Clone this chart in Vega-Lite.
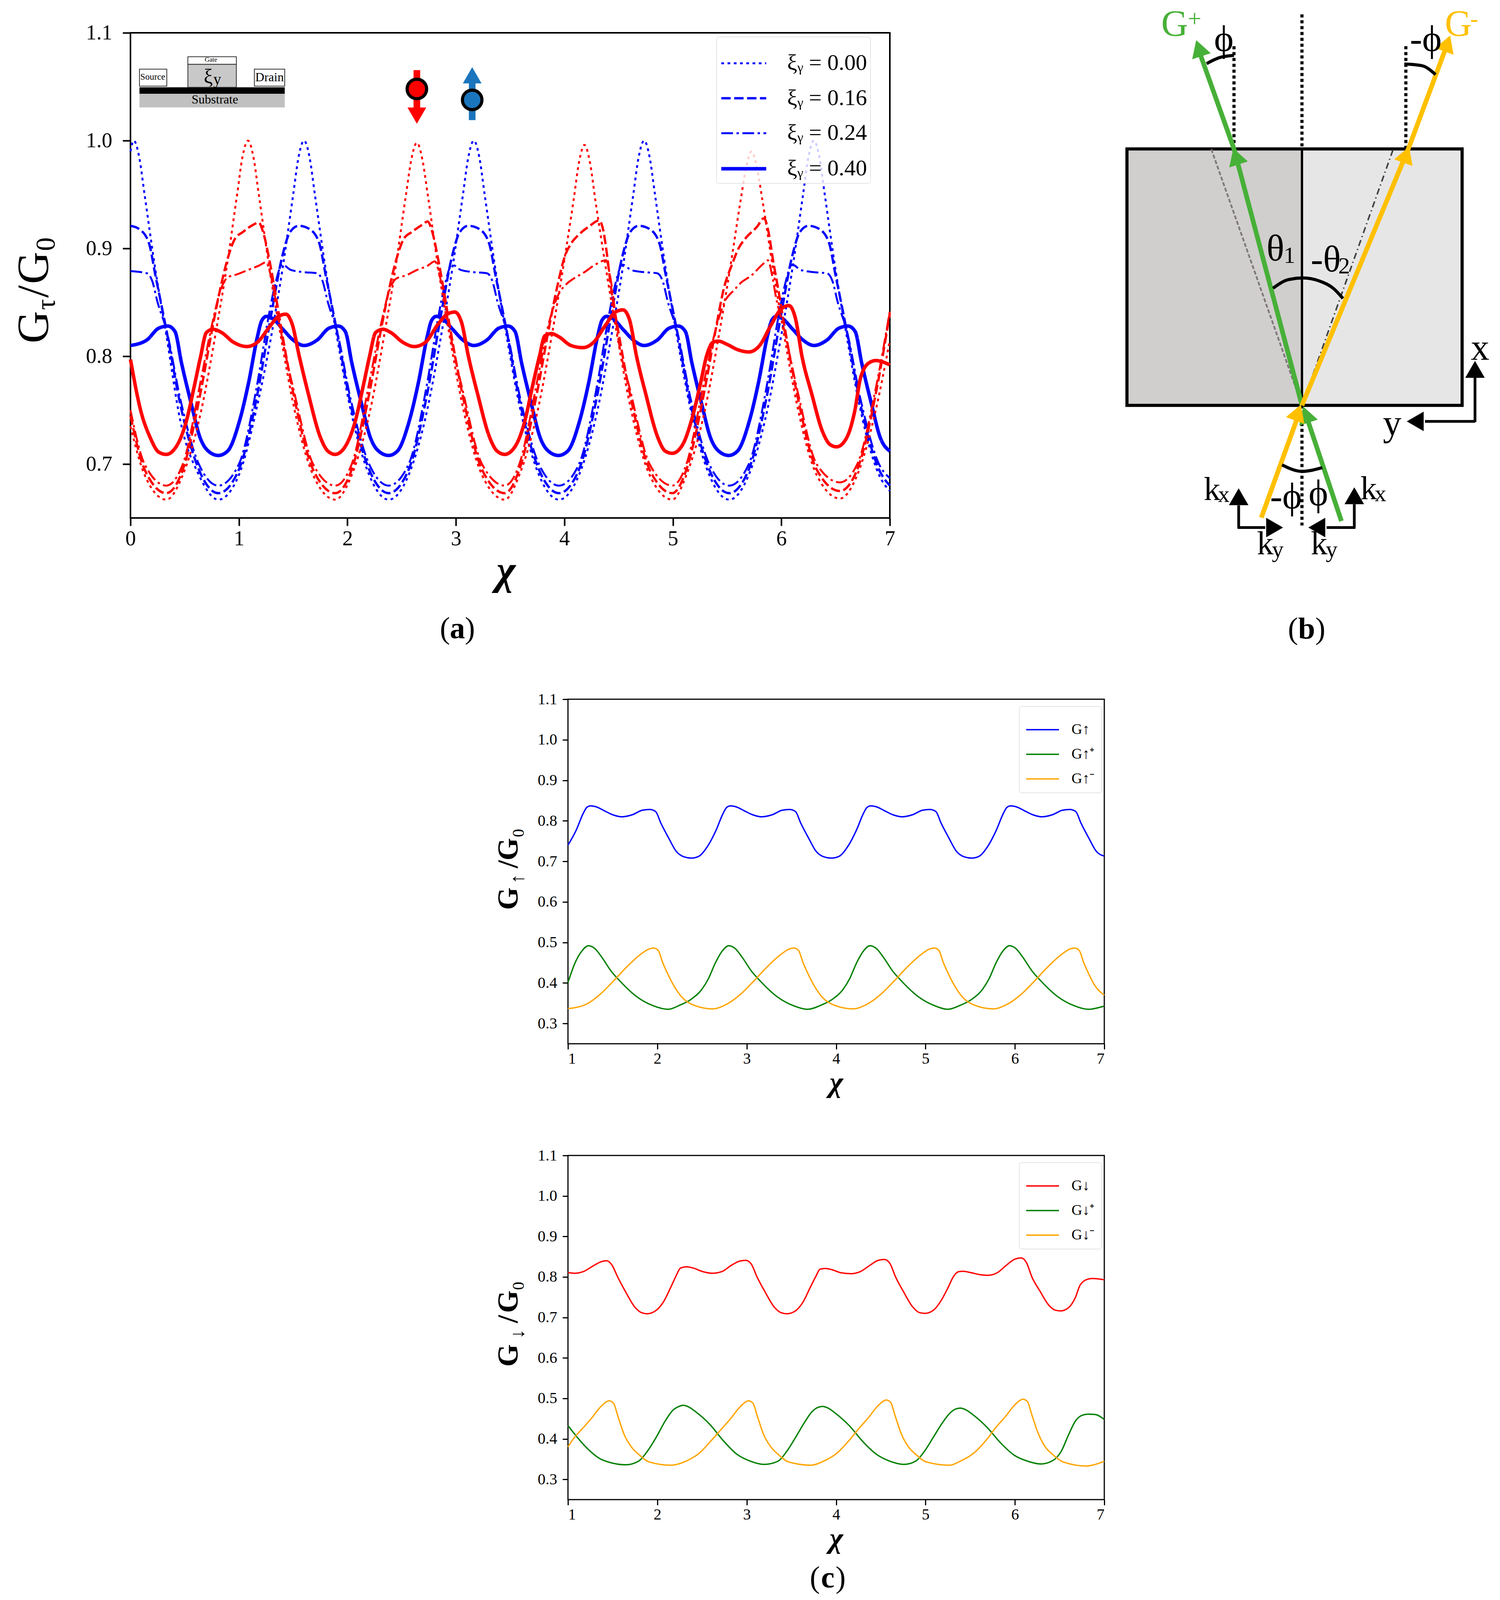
{
"$schema":"https://vega.github.io/schema/vega-lite/v6.json",
"padding":{"left":28,"top":15,"right":0,"bottom":0},
"background":"white",
"config":{"font":"Liberation Serif","text":{"font":"Liberation Serif"},"axis":{"grid":false,"domain":false,"labelFont":"Liberation Serif","titleFont":"Liberation Serif","labelColor":"black","titleColor":"black","tickColor":"black"},"legend":{"labelFont":"Liberation Serif","labelColor":"black"}},
"datasets":{
"up":[
{"x":0,"y":0.99,"k":"0.00"},{"x":0.03,"y":1,"k":"0.00"},{"x":0.08,"y":0.985,"k":"0.00"},{"x":0.13,"y":0.95,"k":"0.00"},{"x":0.23,"y":0.88,"k":"0.00"},{"x":0.33,"y":0.82,"k":"0.00"},{"x":0.46,"y":0.74,"k":"0.00"},{"x":0.63,"y":0.69,"k":"0.00"},{"x":0.81,"y":0.667,"k":"0.00"},
{"x":1,"y":0.69,"k":"0.00"},{"x":1.17,"y":0.755,"k":"0.00"},{"x":1.3,"y":0.82,"k":"0.00"},{"x":1.4,"y":0.88,"k":"0.00"},{"x":1.5,"y":0.95,"k":"0.00"},{"x":1.55,"y":0.985,"k":"0.00"},{"x":1.6,"y":1,"k":"0.00"},{"x":1.65,"y":0.985,"k":"0.00"},{"x":1.7,"y":0.95,"k":"0.00"},{"x":1.8,"y":0.88,"k":"0.00"},{"x":1.9,"y":0.82,"k":"0.00"},{"x":2.03,"y":0.75,"k":"0.00"},{"x":2.2,"y":0.69,"k":"0.00"},{"x":2.38,"y":0.667,"k":"0.00"},
{"x":2.565,"y":0.69,"k":"0.00"},{"x":2.735,"y":0.75,"k":"0.00"},{"x":2.865,"y":0.82,"k":"0.00"},{"x":2.965,"y":0.88,"k":"0.00"},{"x":3.065,"y":0.95,"k":"0.00"},{"x":3.115,"y":0.985,"k":"0.00"},{"x":3.165,"y":1,"k":"0.00"},{"x":3.215,"y":0.985,"k":"0.00"},{"x":3.265,"y":0.95,"k":"0.00"},{"x":3.365,"y":0.88,"k":"0.00"},{"x":3.465,"y":0.82,"k":"0.00"},{"x":3.595,"y":0.75,"k":"0.00"},{"x":3.765,"y":0.69,"k":"0.00"},{"x":3.95,"y":0.667,"k":"0.00"},
{"x":4.135,"y":0.69,"k":"0.00"},{"x":4.305,"y":0.75,"k":"0.00"},{"x":4.435,"y":0.82,"k":"0.00"},{"x":4.535,"y":0.88,"k":"0.00"},{"x":4.635,"y":0.95,"k":"0.00"},{"x":4.685,"y":0.985,"k":"0.00"},{"x":4.735,"y":1,"k":"0.00"},{"x":4.785,"y":0.985,"k":"0.00"},{"x":4.835,"y":0.95,"k":"0.00"},{"x":4.935,"y":0.88,"k":"0.00"},{"x":5.035,"y":0.82,"k":"0.00"},{"x":5.165,"y":0.75,"k":"0.00"},{"x":5.335,"y":0.69,"k":"0.00"},{"x":5.52,"y":0.667,"k":"0.00"},
{"x":5.7,"y":0.69,"k":"0.00"},{"x":5.87,"y":0.75,"k":"0.00"},{"x":6,"y":0.82,"k":"0.00"},{"x":6.1,"y":0.88,"k":"0.00"},{"x":6.2,"y":0.95,"k":"0.00"},{"x":6.25,"y":0.985,"k":"0.00"},{"x":6.3,"y":1,"k":"0.00"},{"x":6.35,"y":0.985,"k":"0.00"},{"x":6.4,"y":0.95,"k":"0.00"},{"x":6.5,"y":0.88,"k":"0.00"},{"x":6.6,"y":0.82,"k":"0.00"},{"x":6.73,"y":0.75,"k":"0.00"},{"x":6.9,"y":0.69,"k":"0.00"},{"x":7,"y":0.675,"k":"0.00"},
{"x":0,"y":0.921,"k":"0.16"},{"x":0.08,"y":0.918,"k":"0.16"},{"x":0.17,"y":0.905,"k":"0.16"},{"x":0.23,"y":0.875,"k":"0.16"},{"x":0.33,"y":0.825,"k":"0.16"},{"x":0.46,"y":0.755,"k":"0.16"},{"x":0.63,"y":0.695,"k":"0.16"},{"x":0.81,"y":0.673,"k":"0.16"},
{"x":1,"y":0.695,"k":"0.16"},{"x":1.17,"y":0.765,"k":"0.16"},{"x":1.3,"y":0.84,"k":"0.16"},{"x":1.4,"y":0.893,"k":"0.16"},{"x":1.47,"y":0.915,"k":"0.16"},{"x":1.55,"y":0.921,"k":"0.16"},{"x":1.65,"y":0.918,"k":"0.16"},{"x":1.74,"y":0.905,"k":"0.16"},{"x":1.8,"y":0.875,"k":"0.16"},{"x":1.9,"y":0.825,"k":"0.16"},{"x":2.03,"y":0.755,"k":"0.16"},{"x":2.2,"y":0.695,"k":"0.16"},{"x":2.38,"y":0.673,"k":"0.16"},
{"x":2.565,"y":0.695,"k":"0.16"},{"x":2.735,"y":0.765,"k":"0.16"},{"x":2.865,"y":0.84,"k":"0.16"},{"x":2.965,"y":0.893,"k":"0.16"},{"x":3.035,"y":0.915,"k":"0.16"},{"x":3.115,"y":0.921,"k":"0.16"},{"x":3.215,"y":0.918,"k":"0.16"},{"x":3.305,"y":0.905,"k":"0.16"},{"x":3.365,"y":0.875,"k":"0.16"},{"x":3.465,"y":0.825,"k":"0.16"},{"x":3.595,"y":0.755,"k":"0.16"},{"x":3.765,"y":0.695,"k":"0.16"},{"x":3.95,"y":0.673,"k":"0.16"},
{"x":4.135,"y":0.695,"k":"0.16"},{"x":4.305,"y":0.765,"k":"0.16"},{"x":4.435,"y":0.84,"k":"0.16"},{"x":4.535,"y":0.893,"k":"0.16"},{"x":4.605,"y":0.915,"k":"0.16"},{"x":4.685,"y":0.921,"k":"0.16"},{"x":4.785,"y":0.918,"k":"0.16"},{"x":4.875,"y":0.905,"k":"0.16"},{"x":4.935,"y":0.875,"k":"0.16"},{"x":5.035,"y":0.825,"k":"0.16"},{"x":5.165,"y":0.755,"k":"0.16"},{"x":5.335,"y":0.695,"k":"0.16"},{"x":5.52,"y":0.673,"k":"0.16"},
{"x":5.7,"y":0.695,"k":"0.16"},{"x":5.87,"y":0.765,"k":"0.16"},{"x":6,"y":0.84,"k":"0.16"},{"x":6.1,"y":0.893,"k":"0.16"},{"x":6.17,"y":0.915,"k":"0.16"},{"x":6.25,"y":0.921,"k":"0.16"},{"x":6.35,"y":0.918,"k":"0.16"},{"x":6.44,"y":0.905,"k":"0.16"},{"x":6.5,"y":0.875,"k":"0.16"},{"x":6.6,"y":0.825,"k":"0.16"},{"x":6.73,"y":0.755,"k":"0.16"},{"x":6.9,"y":0.695,"k":"0.16"},{"x":7,"y":0.68,"k":"0.16"},
{"x":0,"y":0.879,"k":"0.24"},{"x":0.15,"y":0.877,"k":"0.24"},{"x":0.2,"y":0.87,"k":"0.24"},{"x":0.25,"y":0.85,"k":"0.24"},{"x":0.33,"y":0.825,"k":"0.24"},{"x":0.46,"y":0.76,"k":"0.24"},{"x":0.63,"y":0.7,"k":"0.24"},{"x":0.81,"y":0.68,"k":"0.24"},
{"x":1,"y":0.7,"k":"0.24"},{"x":1.17,"y":0.775,"k":"0.24"},{"x":1.27,"y":0.835,"k":"0.24"},{"x":1.33,"y":0.865,"k":"0.24"},{"x":1.4,"y":0.885,"k":"0.24"},{"x":1.48,"y":0.88,"k":"0.24"},{"x":1.6,"y":0.878,"k":"0.24"},{"x":1.72,"y":0.877,"k":"0.24"},{"x":1.77,"y":0.87,"k":"0.24"},{"x":1.82,"y":0.85,"k":"0.24"},{"x":1.9,"y":0.825,"k":"0.24"},{"x":2.03,"y":0.76,"k":"0.24"},{"x":2.2,"y":0.7,"k":"0.24"},{"x":2.38,"y":0.68,"k":"0.24"},
{"x":2.565,"y":0.7,"k":"0.24"},{"x":2.735,"y":0.775,"k":"0.24"},{"x":2.835,"y":0.835,"k":"0.24"},{"x":2.895,"y":0.865,"k":"0.24"},{"x":2.965,"y":0.885,"k":"0.24"},{"x":3.045,"y":0.88,"k":"0.24"},{"x":3.165,"y":0.878,"k":"0.24"},{"x":3.285,"y":0.877,"k":"0.24"},{"x":3.335,"y":0.87,"k":"0.24"},{"x":3.385,"y":0.85,"k":"0.24"},{"x":3.465,"y":0.825,"k":"0.24"},{"x":3.595,"y":0.76,"k":"0.24"},{"x":3.765,"y":0.7,"k":"0.24"},{"x":3.95,"y":0.68,"k":"0.24"},
{"x":4.135,"y":0.7,"k":"0.24"},{"x":4.305,"y":0.775,"k":"0.24"},{"x":4.405,"y":0.835,"k":"0.24"},{"x":4.465,"y":0.865,"k":"0.24"},{"x":4.535,"y":0.885,"k":"0.24"},{"x":4.615,"y":0.88,"k":"0.24"},{"x":4.735,"y":0.878,"k":"0.24"},{"x":4.855,"y":0.877,"k":"0.24"},{"x":4.905,"y":0.87,"k":"0.24"},{"x":4.955,"y":0.85,"k":"0.24"},{"x":5.035,"y":0.825,"k":"0.24"},{"x":5.165,"y":0.76,"k":"0.24"},{"x":5.335,"y":0.7,"k":"0.24"},{"x":5.52,"y":0.68,"k":"0.24"},
{"x":5.7,"y":0.7,"k":"0.24"},{"x":5.87,"y":0.775,"k":"0.24"},{"x":5.97,"y":0.835,"k":"0.24"},{"x":6.03,"y":0.865,"k":"0.24"},{"x":6.1,"y":0.885,"k":"0.24"},{"x":6.18,"y":0.88,"k":"0.24"},{"x":6.3,"y":0.878,"k":"0.24"},{"x":6.42,"y":0.877,"k":"0.24"},{"x":6.47,"y":0.87,"k":"0.24"},{"x":6.52,"y":0.85,"k":"0.24"},{"x":6.6,"y":0.825,"k":"0.24"},{"x":6.73,"y":0.76,"k":"0.24"},{"x":6.9,"y":0.7,"k":"0.24"},{"x":7,"y":0.687,"k":"0.24"},
{"x":0,"y":0.81,"k":"0.40"},{"x":0.15,"y":0.815,"k":"0.40"},{"x":0.26,"y":0.826,"k":"0.40"},{"x":0.345,"y":0.828,"k":"0.40"},{"x":0.41,"y":0.823,"k":"0.40"},{"x":0.47,"y":0.794,"k":"0.40"},{"x":0.56,"y":0.756,"k":"0.40"},{"x":0.64,"y":0.725,"k":"0.40"},{"x":0.73,"y":0.711,"k":"0.40"},{"x":0.81,"y":0.708,"k":"0.40"},
{"x":0.895,"y":0.712,"k":"0.40"},{"x":1.005,"y":0.74,"k":"0.40"},{"x":1.09,"y":0.776,"k":"0.40"},{"x":1.17,"y":0.818,"k":"0.40"},{"x":1.21,"y":0.833,"k":"0.40"},{"x":1.253,"y":0.837,"k":"0.40"},{"x":1.31,"y":0.835,"k":"0.40"},{"x":1.405,"y":0.825,"k":"0.40"},{"x":1.5,"y":0.815,"k":"0.40"},{"x":1.6,"y":0.81,"k":"0.40"},{"x":1.72,"y":0.815,"k":"0.40"},{"x":1.83,"y":0.826,"k":"0.40"},{"x":1.915,"y":0.828,"k":"0.40"},{"x":1.98,"y":0.823,"k":"0.40"},{"x":2.04,"y":0.794,"k":"0.40"},{"x":2.13,"y":0.756,"k":"0.40"},{"x":2.21,"y":0.725,"k":"0.40"},{"x":2.3,"y":0.711,"k":"0.40"},{"x":2.38,"y":0.708,"k":"0.40"},
{"x":2.46,"y":0.712,"k":"0.40"},{"x":2.57,"y":0.74,"k":"0.40"},{"x":2.655,"y":0.776,"k":"0.40"},{"x":2.735,"y":0.818,"k":"0.40"},{"x":2.775,"y":0.833,"k":"0.40"},{"x":2.818,"y":0.837,"k":"0.40"},{"x":2.875,"y":0.835,"k":"0.40"},{"x":2.97,"y":0.825,"k":"0.40"},{"x":3.065,"y":0.815,"k":"0.40"},{"x":3.165,"y":0.81,"k":"0.40"},{"x":3.285,"y":0.815,"k":"0.40"},{"x":3.395,"y":0.826,"k":"0.40"},{"x":3.48,"y":0.828,"k":"0.40"},{"x":3.545,"y":0.823,"k":"0.40"},{"x":3.605,"y":0.794,"k":"0.40"},{"x":3.695,"y":0.756,"k":"0.40"},{"x":3.775,"y":0.725,"k":"0.40"},{"x":3.865,"y":0.711,"k":"0.40"},{"x":3.945,"y":0.708,"k":"0.40"},
{"x":4.03,"y":0.712,"k":"0.40"},{"x":4.14,"y":0.74,"k":"0.40"},{"x":4.225,"y":0.776,"k":"0.40"},{"x":4.305,"y":0.818,"k":"0.40"},{"x":4.345,"y":0.833,"k":"0.40"},{"x":4.388,"y":0.837,"k":"0.40"},{"x":4.445,"y":0.835,"k":"0.40"},{"x":4.54,"y":0.825,"k":"0.40"},{"x":4.635,"y":0.815,"k":"0.40"},{"x":4.735,"y":0.81,"k":"0.40"},{"x":4.855,"y":0.815,"k":"0.40"},{"x":4.965,"y":0.826,"k":"0.40"},{"x":5.05,"y":0.828,"k":"0.40"},{"x":5.115,"y":0.823,"k":"0.40"},{"x":5.175,"y":0.794,"k":"0.40"},{"x":5.265,"y":0.756,"k":"0.40"},{"x":5.345,"y":0.725,"k":"0.40"},{"x":5.435,"y":0.711,"k":"0.40"},{"x":5.515,"y":0.708,"k":"0.40"},
{"x":5.595,"y":0.712,"k":"0.40"},{"x":5.705,"y":0.74,"k":"0.40"},{"x":5.79,"y":0.776,"k":"0.40"},{"x":5.87,"y":0.818,"k":"0.40"},{"x":5.91,"y":0.833,"k":"0.40"},{"x":5.953,"y":0.837,"k":"0.40"},{"x":6.01,"y":0.835,"k":"0.40"},{"x":6.105,"y":0.825,"k":"0.40"},{"x":6.2,"y":0.815,"k":"0.40"},{"x":6.3,"y":0.81,"k":"0.40"},{"x":6.42,"y":0.815,"k":"0.40"},{"x":6.53,"y":0.826,"k":"0.40"},{"x":6.615,"y":0.828,"k":"0.40"},{"x":6.68,"y":0.823,"k":"0.40"},{"x":6.74,"y":0.794,"k":"0.40"},{"x":6.83,"y":0.756,"k":"0.40"},{"x":6.91,"y":0.725,"k":"0.40"},{"x":7,"y":0.712,"k":"0.40"}
],
"down":[
{"x":0,"y":0.735,"k":"0.00"},{"x":0.13,"y":0.69,"k":"0.00"},{"x":0.33,"y":0.667,"k":"0.00"},{"x":0.483,"y":0.69,"k":"0.00"},{"x":0.653,"y":0.75,"k":"0.00"},{"x":0.783,"y":0.82,"k":"0.00"},{"x":0.883,"y":0.88,"k":"0.00"},{"x":0.983,"y":0.95,"k":"0.00"},{"x":1.033,"y":0.985,"k":"0.00"},{"x":1.083,"y":1,"k":"0.00"},{"x":1.133,"y":0.985,"k":"0.00"},{"x":1.183,"y":0.95,"k":"0.00"},{"x":1.283,"y":0.88,"k":"0.00"},{"x":1.383,"y":0.82,"k":"0.00"},{"x":1.513,"y":0.75,"k":"0.00"},{"x":1.683,"y":0.69,"k":"0.00"},{"x":1.887,"y":0.667,"k":"0.00"},
{"x":2.04,"y":0.69,"k":"0.00"},{"x":2.21,"y":0.75,"k":"0.00"},{"x":2.34,"y":0.82,"k":"0.00"},{"x":2.44,"y":0.88,"k":"0.00"},{"x":2.54,"y":0.95,"k":"0.00"},{"x":2.59,"y":0.983,"k":"0.00"},{"x":2.64,"y":0.998,"k":"0.00"},{"x":2.69,"y":0.983,"k":"0.00"},{"x":2.74,"y":0.95,"k":"0.00"},{"x":2.84,"y":0.88,"k":"0.00"},{"x":2.94,"y":0.82,"k":"0.00"},{"x":3.07,"y":0.75,"k":"0.00"},{"x":3.24,"y":0.69,"k":"0.00"},{"x":3.45,"y":0.667,"k":"0.00"},
{"x":3.585,"y":0.69,"k":"0.00"},{"x":3.755,"y":0.75,"k":"0.00"},{"x":3.885,"y":0.82,"k":"0.00"},{"x":3.985,"y":0.88,"k":"0.00"},{"x":4.085,"y":0.945,"k":"0.00"},{"x":4.135,"y":0.98,"k":"0.00"},{"x":4.185,"y":0.996,"k":"0.00"},{"x":4.235,"y":0.98,"k":"0.00"},{"x":4.285,"y":0.945,"k":"0.00"},{"x":4.385,"y":0.88,"k":"0.00"},{"x":4.485,"y":0.82,"k":"0.00"},{"x":4.615,"y":0.75,"k":"0.00"},{"x":4.785,"y":0.69,"k":"0.00"},{"x":4.995,"y":0.667,"k":"0.00"},
{"x":5.125,"y":0.69,"k":"0.00"},{"x":5.295,"y":0.75,"k":"0.00"},{"x":5.425,"y":0.82,"k":"0.00"},{"x":5.525,"y":0.88,"k":"0.00"},{"x":5.625,"y":0.945,"k":"0.00"},{"x":5.675,"y":0.975,"k":"0.00"},{"x":5.725,"y":0.99,"k":"0.00"},{"x":5.775,"y":0.975,"k":"0.00"},{"x":5.825,"y":0.945,"k":"0.00"},{"x":5.925,"y":0.88,"k":"0.00"},{"x":6.025,"y":0.82,"k":"0.00"},{"x":6.155,"y":0.75,"k":"0.00"},{"x":6.325,"y":0.69,"k":"0.00"},{"x":6.54,"y":0.668,"k":"0.00"},{"x":6.7,"y":0.69,"k":"0.00"},{"x":6.87,"y":0.75,"k":"0.00"},{"x":7,"y":0.815,"k":"0.00"},
{"x":0,"y":0.745,"k":"0.16"},{"x":0.13,"y":0.695,"k":"0.16"},{"x":0.33,"y":0.673,"k":"0.16"},{"x":0.483,"y":0.695,"k":"0.16"},{"x":0.653,"y":0.77,"k":"0.16"},{"x":0.753,"y":0.825,"k":"0.16"},{"x":0.833,"y":0.865,"k":"0.16"},{"x":0.903,"y":0.893,"k":"0.16"},{"x":0.963,"y":0.909,"k":"0.16"},{"x":1.033,"y":0.915,"k":"0.16"},{"x":1.133,"y":0.922,"k":"0.16"},{"x":1.183,"y":0.924,"k":"0.16"},{"x":1.223,"y":0.915,"k":"0.16"},{"x":1.283,"y":0.888,"k":"0.16"},{"x":1.333,"y":0.86,"k":"0.16"},{"x":1.383,"y":0.83,"k":"0.16"},{"x":1.513,"y":0.76,"k":"0.16"},{"x":1.683,"y":0.695,"k":"0.16"},{"x":1.887,"y":0.673,"k":"0.16"},
{"x":2.04,"y":0.695,"k":"0.16"},{"x":2.21,"y":0.77,"k":"0.16"},{"x":2.31,"y":0.825,"k":"0.16"},{"x":2.39,"y":0.865,"k":"0.16"},{"x":2.46,"y":0.893,"k":"0.16"},{"x":2.52,"y":0.909,"k":"0.16"},{"x":2.59,"y":0.915,"k":"0.16"},{"x":2.69,"y":0.922,"k":"0.16"},{"x":2.74,"y":0.925,"k":"0.16"},{"x":2.78,"y":0.916,"k":"0.16"},{"x":2.84,"y":0.888,"k":"0.16"},{"x":2.89,"y":0.86,"k":"0.16"},{"x":2.94,"y":0.83,"k":"0.16"},{"x":3.07,"y":0.76,"k":"0.16"},{"x":3.24,"y":0.695,"k":"0.16"},{"x":3.45,"y":0.673,"k":"0.16"},
{"x":3.585,"y":0.695,"k":"0.16"},{"x":3.755,"y":0.77,"k":"0.16"},{"x":3.855,"y":0.825,"k":"0.16"},{"x":3.935,"y":0.865,"k":"0.16"},{"x":4.005,"y":0.893,"k":"0.16"},{"x":4.065,"y":0.905,"k":"0.16"},{"x":4.135,"y":0.913,"k":"0.16"},{"x":4.235,"y":0.921,"k":"0.16"},{"x":4.32,"y":0.926,"k":"0.16"},{"x":4.36,"y":0.916,"k":"0.16"},{"x":4.385,"y":0.9,"k":"0.16"},{"x":4.435,"y":0.86,"k":"0.16"},{"x":4.485,"y":0.83,"k":"0.16"},{"x":4.615,"y":0.76,"k":"0.16"},{"x":4.785,"y":0.695,"k":"0.16"},{"x":4.995,"y":0.673,"k":"0.16"},
{"x":5.125,"y":0.695,"k":"0.16"},{"x":5.295,"y":0.77,"k":"0.16"},{"x":5.395,"y":0.825,"k":"0.16"},{"x":5.475,"y":0.865,"k":"0.16"},{"x":5.545,"y":0.885,"k":"0.16"},{"x":5.605,"y":0.9,"k":"0.16"},{"x":5.675,"y":0.91,"k":"0.16"},{"x":5.775,"y":0.92,"k":"0.16"},{"x":5.84,"y":0.928,"k":"0.16"},{"x":5.88,"y":0.916,"k":"0.16"},{"x":5.925,"y":0.888,"k":"0.16"},{"x":5.975,"y":0.86,"k":"0.16"},{"x":6.025,"y":0.83,"k":"0.16"},{"x":6.155,"y":0.76,"k":"0.16"},{"x":6.325,"y":0.695,"k":"0.16"},{"x":6.54,"y":0.675,"k":"0.16"},{"x":6.7,"y":0.695,"k":"0.16"},{"x":6.87,"y":0.765,"k":"0.16"},{"x":7,"y":0.84,"k":"0.16"},
{"x":0,"y":0.75,"k":"0.24"},{"x":0.13,"y":0.7,"k":"0.24"},{"x":0.33,"y":0.68,"k":"0.24"},{"x":0.483,"y":0.7,"k":"0.24"},{"x":0.653,"y":0.78,"k":"0.24"},{"x":0.753,"y":0.83,"k":"0.24"},{"x":0.833,"y":0.862,"k":"0.24"},{"x":0.893,"y":0.873,"k":"0.24"},{"x":0.983,"y":0.876,"k":"0.24"},{"x":1.083,"y":0.88,"k":"0.24"},{"x":1.183,"y":0.884,"k":"0.24"},{"x":1.248,"y":0.887,"k":"0.24"},{"x":1.293,"y":0.875,"k":"0.24"},{"x":1.333,"y":0.855,"k":"0.24"},{"x":1.383,"y":0.825,"k":"0.24"},{"x":1.513,"y":0.765,"k":"0.24"},{"x":1.683,"y":0.7,"k":"0.24"},{"x":1.887,"y":0.68,"k":"0.24"},
{"x":2.04,"y":0.7,"k":"0.24"},{"x":2.21,"y":0.78,"k":"0.24"},{"x":2.31,"y":0.83,"k":"0.24"},{"x":2.39,"y":0.862,"k":"0.24"},{"x":2.45,"y":0.872,"k":"0.24"},{"x":2.54,"y":0.875,"k":"0.24"},{"x":2.64,"y":0.88,"k":"0.24"},{"x":2.74,"y":0.884,"k":"0.24"},{"x":2.805,"y":0.888,"k":"0.24"},{"x":2.85,"y":0.875,"k":"0.24"},{"x":2.89,"y":0.855,"k":"0.24"},{"x":2.94,"y":0.825,"k":"0.24"},{"x":3.07,"y":0.765,"k":"0.24"},{"x":3.24,"y":0.7,"k":"0.24"},{"x":3.45,"y":0.68,"k":"0.24"},
{"x":3.585,"y":0.7,"k":"0.24"},{"x":3.755,"y":0.78,"k":"0.24"},{"x":3.855,"y":0.83,"k":"0.24"},{"x":3.935,"y":0.855,"k":"0.24"},{"x":4.03,"y":0.868,"k":"0.24"},{"x":4.085,"y":0.872,"k":"0.24"},{"x":4.185,"y":0.878,"k":"0.24"},{"x":4.285,"y":0.885,"k":"0.24"},{"x":4.385,"y":0.889,"k":"0.24"},{"x":4.42,"y":0.875,"k":"0.24"},{"x":4.45,"y":0.855,"k":"0.24"},{"x":4.485,"y":0.825,"k":"0.24"},{"x":4.615,"y":0.765,"k":"0.24"},{"x":4.785,"y":0.7,"k":"0.24"},{"x":4.995,"y":0.68,"k":"0.24"},
{"x":5.125,"y":0.7,"k":"0.24"},{"x":5.295,"y":0.78,"k":"0.24"},{"x":5.395,"y":0.825,"k":"0.24"},{"x":5.475,"y":0.85,"k":"0.24"},{"x":5.57,"y":0.862,"k":"0.24"},{"x":5.625,"y":0.868,"k":"0.24"},{"x":5.725,"y":0.875,"k":"0.24"},{"x":5.825,"y":0.885,"k":"0.24"},{"x":5.876,"y":0.889,"k":"0.24"},{"x":5.915,"y":0.875,"k":"0.24"},{"x":5.95,"y":0.855,"k":"0.24"},{"x":6.025,"y":0.825,"k":"0.24"},{"x":6.155,"y":0.765,"k":"0.24"},{"x":6.325,"y":0.7,"k":"0.24"},{"x":6.54,"y":0.683,"k":"0.24"},{"x":6.7,"y":0.7,"k":"0.24"},{"x":6.87,"y":0.77,"k":"0.24"},{"x":7,"y":0.842,"k":"0.24"},
{"x":0,"y":0.797,"k":"0.40"},{"x":0.096,"y":0.749,"k":"0.40"},{"x":0.18,"y":0.725,"k":"0.40"},{"x":0.262,"y":0.711,"k":"0.40"},{"x":0.33,"y":0.709,"k":"0.40"},{"x":0.427,"y":0.717,"k":"0.40"},{"x":0.51,"y":0.738,"k":"0.40"},{"x":0.592,"y":0.774,"k":"0.40"},{"x":0.647,"y":0.8,"k":"0.40"},{"x":0.7,"y":0.822,"k":"0.40"},{"x":0.763,"y":0.825,"k":"0.40"},{"x":0.84,"y":0.822,"k":"0.40"},{"x":0.95,"y":0.813,"k":"0.40"},{"x":1.074,"y":0.809,"k":"0.40"},{"x":1.17,"y":0.813,"k":"0.40"},{"x":1.28,"y":0.827,"k":"0.40"},{"x":1.364,"y":0.837,"k":"0.40"},{"x":1.433,"y":0.839,"k":"0.40"},{"x":1.49,"y":0.83,"k":"0.40"},{"x":1.556,"y":0.8,"k":"0.40"},{"x":1.64,"y":0.765,"k":"0.40"},{"x":1.75,"y":0.725,"k":"0.40"},{"x":1.82,"y":0.712,"k":"0.40"},{"x":1.887,"y":0.709,"k":"0.40"},
{"x":1.984,"y":0.717,"k":"0.40"},{"x":2.067,"y":0.738,"k":"0.40"},{"x":2.149,"y":0.774,"k":"0.40"},{"x":2.204,"y":0.8,"k":"0.40"},{"x":2.26,"y":0.822,"k":"0.40"},{"x":2.328,"y":0.825,"k":"0.40"},{"x":2.4,"y":0.822,"k":"0.40"},{"x":2.51,"y":0.813,"k":"0.40"},{"x":2.617,"y":0.809,"k":"0.40"},{"x":2.72,"y":0.813,"k":"0.40"},{"x":2.83,"y":0.829,"k":"0.40"},{"x":2.92,"y":0.839,"k":"0.40"},{"x":2.99,"y":0.841,"k":"0.40"},{"x":3.05,"y":0.832,"k":"0.40"},{"x":3.115,"y":0.8,"k":"0.40"},{"x":3.2,"y":0.765,"k":"0.40"},{"x":3.31,"y":0.725,"k":"0.40"},{"x":3.38,"y":0.712,"k":"0.40"},{"x":3.45,"y":0.709,"k":"0.40"},
{"x":3.55,"y":0.717,"k":"0.40"},{"x":3.63,"y":0.738,"k":"0.40"},{"x":3.71,"y":0.774,"k":"0.40"},{"x":3.77,"y":0.8,"k":"0.40"},{"x":3.82,"y":0.819,"k":"0.40"},{"x":3.88,"y":0.821,"k":"0.40"},{"x":3.95,"y":0.818,"k":"0.40"},{"x":4.06,"y":0.81,"k":"0.40"},{"x":4.17,"y":0.808,"k":"0.40"},{"x":4.27,"y":0.813,"k":"0.40"},{"x":4.38,"y":0.829,"k":"0.40"},{"x":4.47,"y":0.841,"k":"0.40"},{"x":4.54,"y":0.843,"k":"0.40"},{"x":4.6,"y":0.834,"k":"0.40"},{"x":4.665,"y":0.8,"k":"0.40"},{"x":4.75,"y":0.765,"k":"0.40"},{"x":4.86,"y":0.725,"k":"0.40"},{"x":4.93,"y":0.712,"k":"0.40"},{"x":4.995,"y":0.71,"k":"0.40"},
{"x":5.09,"y":0.718,"k":"0.40"},{"x":5.17,"y":0.74,"k":"0.40"},{"x":5.255,"y":0.775,"k":"0.40"},{"x":5.31,"y":0.8,"k":"0.40"},{"x":5.37,"y":0.813,"k":"0.40"},{"x":5.42,"y":0.814,"k":"0.40"},{"x":5.5,"y":0.811,"k":"0.40"},{"x":5.6,"y":0.806,"k":"0.40"},{"x":5.7,"y":0.804,"k":"0.40"},{"x":5.8,"y":0.81,"k":"0.40"},{"x":5.9,"y":0.828,"k":"0.40"},{"x":6,"y":0.844,"k":"0.40"},{"x":6.07,"y":0.847,"k":"0.40"},{"x":6.13,"y":0.835,"k":"0.40"},{"x":6.19,"y":0.8,"k":"0.40"},{"x":6.28,"y":0.765,"k":"0.40"},{"x":6.38,"y":0.73,"k":"0.40"},{"x":6.45,"y":0.718,"k":"0.40"},{"x":6.51,"y":0.716,"k":"0.40"},{"x":6.6,"y":0.724,"k":"0.40"},{"x":6.676,"y":0.749,"k":"0.40"},{"x":6.73,"y":0.78,"k":"0.40"},{"x":6.81,"y":0.794,"k":"0.40"},{"x":6.87,"y":0.796,"k":"0.40"},{"x":7,"y":0.792,"k":"0.40"}
],
"cup":[
{"x":1,"y":0.74,"g":"G↑"},{"x":1.09,"y":0.776,"g":"G↑"},{"x":1.17,"y":0.818,"g":"G↑"},{"x":1.21,"y":0.833,"g":"G↑"},{"x":1.253,"y":0.837,"g":"G↑"},{"x":1.31,"y":0.835,"g":"G↑"},{"x":1.405,"y":0.825,"g":"G↑"},{"x":1.5,"y":0.815,"g":"G↑"},{"x":1.6,"y":0.81,"g":"G↑"},{"x":1.72,"y":0.815,"g":"G↑"},{"x":1.83,"y":0.826,"g":"G↑"},{"x":1.915,"y":0.828,"g":"G↑"},{"x":1.98,"y":0.823,"g":"G↑"},{"x":2.04,"y":0.794,"g":"G↑"},{"x":2.13,"y":0.756,"g":"G↑"},{"x":2.21,"y":0.725,"g":"G↑"},{"x":2.3,"y":0.711,"g":"G↑"},{"x":2.38,"y":0.708,"g":"G↑"},
{"x":2.46,"y":0.712,"g":"G↑"},{"x":2.57,"y":0.74,"g":"G↑"},{"x":2.655,"y":0.776,"g":"G↑"},{"x":2.735,"y":0.818,"g":"G↑"},{"x":2.775,"y":0.833,"g":"G↑"},{"x":2.818,"y":0.837,"g":"G↑"},{"x":2.875,"y":0.835,"g":"G↑"},{"x":2.97,"y":0.825,"g":"G↑"},{"x":3.065,"y":0.815,"g":"G↑"},{"x":3.165,"y":0.81,"g":"G↑"},{"x":3.285,"y":0.815,"g":"G↑"},{"x":3.395,"y":0.826,"g":"G↑"},{"x":3.48,"y":0.828,"g":"G↑"},{"x":3.545,"y":0.823,"g":"G↑"},{"x":3.605,"y":0.794,"g":"G↑"},{"x":3.695,"y":0.756,"g":"G↑"},{"x":3.775,"y":0.725,"g":"G↑"},{"x":3.865,"y":0.711,"g":"G↑"},{"x":3.945,"y":0.708,"g":"G↑"},
{"x":4.03,"y":0.712,"g":"G↑"},{"x":4.14,"y":0.74,"g":"G↑"},{"x":4.225,"y":0.776,"g":"G↑"},{"x":4.305,"y":0.818,"g":"G↑"},{"x":4.345,"y":0.833,"g":"G↑"},{"x":4.388,"y":0.837,"g":"G↑"},{"x":4.445,"y":0.835,"g":"G↑"},{"x":4.54,"y":0.825,"g":"G↑"},{"x":4.635,"y":0.815,"g":"G↑"},{"x":4.735,"y":0.81,"g":"G↑"},{"x":4.855,"y":0.815,"g":"G↑"},{"x":4.965,"y":0.826,"g":"G↑"},{"x":5.05,"y":0.828,"g":"G↑"},{"x":5.115,"y":0.823,"g":"G↑"},{"x":5.175,"y":0.794,"g":"G↑"},{"x":5.265,"y":0.756,"g":"G↑"},{"x":5.345,"y":0.725,"g":"G↑"},{"x":5.435,"y":0.711,"g":"G↑"},{"x":5.515,"y":0.708,"g":"G↑"},
{"x":5.595,"y":0.712,"g":"G↑"},{"x":5.705,"y":0.74,"g":"G↑"},{"x":5.79,"y":0.776,"g":"G↑"},{"x":5.87,"y":0.818,"g":"G↑"},{"x":5.91,"y":0.833,"g":"G↑"},{"x":5.953,"y":0.837,"g":"G↑"},{"x":6.01,"y":0.835,"g":"G↑"},{"x":6.105,"y":0.825,"g":"G↑"},{"x":6.2,"y":0.815,"g":"G↑"},{"x":6.3,"y":0.81,"g":"G↑"},{"x":6.42,"y":0.815,"g":"G↑"},{"x":6.53,"y":0.826,"g":"G↑"},{"x":6.615,"y":0.828,"g":"G↑"},{"x":6.68,"y":0.823,"g":"G↑"},{"x":6.74,"y":0.794,"g":"G↑"},{"x":6.83,"y":0.756,"g":"G↑"},{"x":6.91,"y":0.725,"g":"G↑"},{"x":7,"y":0.713,"g":"G↑"},
{"x":1,"y":0.401,"g":"G↑⁺"},{"x":1.08,"y":0.45,"g":"G↑⁺"},{"x":1.16,"y":0.48,"g":"G↑⁺"},{"x":1.23,"y":0.492,"g":"G↑⁺"},{"x":1.3,"y":0.485,"g":"G↑⁺"},{"x":1.38,"y":0.463,"g":"G↑⁺"},{"x":1.48,"y":0.43,"g":"G↑⁺"},{"x":1.58,"y":0.405,"g":"G↑⁺"},{"x":1.77,"y":0.366,"g":"G↑⁺"},{"x":1.95,"y":0.344,"g":"G↑⁺"},{"x":2.12,"y":0.335,"g":"G↑⁺"},
{"x":2.25,"y":0.345,"g":"G↑⁺"},{"x":2.38,"y":0.36,"g":"G↑⁺"},{"x":2.5,"y":0.385,"g":"G↑⁺"},{"x":2.57,"y":0.41,"g":"G↑⁺"},{"x":2.65,"y":0.45,"g":"G↑⁺"},{"x":2.73,"y":0.48,"g":"G↑⁺"},{"x":2.8,"y":0.492,"g":"G↑⁺"},{"x":2.87,"y":0.485,"g":"G↑⁺"},{"x":2.95,"y":0.463,"g":"G↑⁺"},{"x":3.05,"y":0.43,"g":"G↑⁺"},{"x":3.15,"y":0.405,"g":"G↑⁺"},{"x":3.34,"y":0.366,"g":"G↑⁺"},{"x":3.52,"y":0.344,"g":"G↑⁺"},{"x":3.68,"y":0.335,"g":"G↑⁺"},
{"x":3.83,"y":0.345,"g":"G↑⁺"},{"x":3.96,"y":0.36,"g":"G↑⁺"},{"x":4.08,"y":0.385,"g":"G↑⁺"},{"x":4.15,"y":0.41,"g":"G↑⁺"},{"x":4.23,"y":0.45,"g":"G↑⁺"},{"x":4.31,"y":0.48,"g":"G↑⁺"},{"x":4.38,"y":0.492,"g":"G↑⁺"},{"x":4.45,"y":0.485,"g":"G↑⁺"},{"x":4.53,"y":0.463,"g":"G↑⁺"},{"x":4.63,"y":0.43,"g":"G↑⁺"},{"x":4.73,"y":0.405,"g":"G↑⁺"},{"x":4.92,"y":0.366,"g":"G↑⁺"},{"x":5.1,"y":0.344,"g":"G↑⁺"},{"x":5.25,"y":0.335,"g":"G↑⁺"},
{"x":5.39,"y":0.345,"g":"G↑⁺"},{"x":5.52,"y":0.36,"g":"G↑⁺"},{"x":5.64,"y":0.385,"g":"G↑⁺"},{"x":5.71,"y":0.41,"g":"G↑⁺"},{"x":5.79,"y":0.45,"g":"G↑⁺"},{"x":5.87,"y":0.48,"g":"G↑⁺"},{"x":5.94,"y":0.492,"g":"G↑⁺"},{"x":6.01,"y":0.485,"g":"G↑⁺"},{"x":6.09,"y":0.463,"g":"G↑⁺"},{"x":6.19,"y":0.43,"g":"G↑⁺"},{"x":6.29,"y":0.405,"g":"G↑⁺"},{"x":6.48,"y":0.366,"g":"G↑⁺"},{"x":6.66,"y":0.344,"g":"G↑⁺"},{"x":6.82,"y":0.335,"g":"G↑⁺"},{"x":7,"y":0.343,"g":"G↑⁺"},
{"x":1,"y":0.337,"g":"G↑⁻"},{"x":1.05,"y":0.338,"g":"G↑⁻"},{"x":1.21,"y":0.348,"g":"G↑⁻"},{"x":1.36,"y":0.372,"g":"G↑⁻"},{"x":1.51,"y":0.405,"g":"G↑⁻"},{"x":1.66,"y":0.44,"g":"G↑⁻"},{"x":1.81,"y":0.47,"g":"G↑⁻"},{"x":1.91,"y":0.484,"g":"G↑⁻"},{"x":1.96,"y":0.486,"g":"G↑⁻"},{"x":2.01,"y":0.48,"g":"G↑⁻"},{"x":2.06,"y":0.45,"g":"G↑⁻"},{"x":2.1,"y":0.43,"g":"G↑⁻"},{"x":2.18,"y":0.395,"g":"G↑⁻"},{"x":2.27,"y":0.366,"g":"G↑⁻"},{"x":2.41,"y":0.345,"g":"G↑⁻"},{"x":2.62,"y":0.336,"g":"G↑⁻"},
{"x":2.78,"y":0.348,"g":"G↑⁻"},{"x":2.93,"y":0.372,"g":"G↑⁻"},{"x":3.08,"y":0.405,"g":"G↑⁻"},{"x":3.23,"y":0.44,"g":"G↑⁻"},{"x":3.38,"y":0.47,"g":"G↑⁻"},{"x":3.48,"y":0.484,"g":"G↑⁻"},{"x":3.53,"y":0.486,"g":"G↑⁻"},{"x":3.58,"y":0.48,"g":"G↑⁻"},{"x":3.63,"y":0.45,"g":"G↑⁻"},{"x":3.67,"y":0.43,"g":"G↑⁻"},{"x":3.75,"y":0.395,"g":"G↑⁻"},{"x":3.84,"y":0.366,"g":"G↑⁻"},{"x":3.98,"y":0.345,"g":"G↑⁻"},{"x":4.19,"y":0.336,"g":"G↑⁻"},
{"x":4.35,"y":0.348,"g":"G↑⁻"},{"x":4.5,"y":0.372,"g":"G↑⁻"},{"x":4.65,"y":0.405,"g":"G↑⁻"},{"x":4.8,"y":0.44,"g":"G↑⁻"},{"x":4.95,"y":0.47,"g":"G↑⁻"},{"x":5.05,"y":0.484,"g":"G↑⁻"},{"x":5.1,"y":0.486,"g":"G↑⁻"},{"x":5.15,"y":0.48,"g":"G↑⁻"},{"x":5.2,"y":0.45,"g":"G↑⁻"},{"x":5.24,"y":0.43,"g":"G↑⁻"},{"x":5.32,"y":0.395,"g":"G↑⁻"},{"x":5.41,"y":0.366,"g":"G↑⁻"},{"x":5.55,"y":0.345,"g":"G↑⁻"},{"x":5.76,"y":0.336,"g":"G↑⁻"},
{"x":5.92,"y":0.348,"g":"G↑⁻"},{"x":6.07,"y":0.372,"g":"G↑⁻"},{"x":6.22,"y":0.405,"g":"G↑⁻"},{"x":6.37,"y":0.44,"g":"G↑⁻"},{"x":6.52,"y":0.47,"g":"G↑⁻"},{"x":6.62,"y":0.484,"g":"G↑⁻"},{"x":6.67,"y":0.486,"g":"G↑⁻"},{"x":6.72,"y":0.48,"g":"G↑⁻"},{"x":6.77,"y":0.45,"g":"G↑⁻"},{"x":6.81,"y":0.43,"g":"G↑⁻"},{"x":6.89,"y":0.395,"g":"G↑⁻"},{"x":7,"y":0.37,"g":"G↑⁻"}
],
"cdown":[
{"x":1,"y":0.811,"g":"G↓"},{"x":1.074,"y":0.809,"g":"G↓"},{"x":1.17,"y":0.813,"g":"G↓"},{"x":1.28,"y":0.827,"g":"G↓"},{"x":1.364,"y":0.837,"g":"G↓"},{"x":1.433,"y":0.84,"g":"G↓"},{"x":1.49,"y":0.83,"g":"G↓"},{"x":1.556,"y":0.8,"g":"G↓"},{"x":1.64,"y":0.765,"g":"G↓"},{"x":1.75,"y":0.725,"g":"G↓"},{"x":1.82,"y":0.712,"g":"G↓"},{"x":1.887,"y":0.709,"g":"G↓"},
{"x":1.984,"y":0.717,"g":"G↓"},{"x":2.067,"y":0.738,"g":"G↓"},{"x":2.149,"y":0.774,"g":"G↓"},{"x":2.204,"y":0.8,"g":"G↓"},{"x":2.26,"y":0.822,"g":"G↓"},{"x":2.328,"y":0.825,"g":"G↓"},{"x":2.4,"y":0.822,"g":"G↓"},{"x":2.51,"y":0.813,"g":"G↓"},{"x":2.617,"y":0.809,"g":"G↓"},{"x":2.72,"y":0.813,"g":"G↓"},{"x":2.83,"y":0.829,"g":"G↓"},{"x":2.92,"y":0.839,"g":"G↓"},{"x":2.99,"y":0.841,"g":"G↓"},{"x":3.05,"y":0.832,"g":"G↓"},{"x":3.115,"y":0.8,"g":"G↓"},{"x":3.2,"y":0.765,"g":"G↓"},{"x":3.31,"y":0.725,"g":"G↓"},{"x":3.38,"y":0.712,"g":"G↓"},{"x":3.45,"y":0.709,"g":"G↓"},
{"x":3.55,"y":0.717,"g":"G↓"},{"x":3.63,"y":0.738,"g":"G↓"},{"x":3.71,"y":0.774,"g":"G↓"},{"x":3.77,"y":0.8,"g":"G↓"},{"x":3.82,"y":0.819,"g":"G↓"},{"x":3.88,"y":0.821,"g":"G↓"},{"x":3.95,"y":0.818,"g":"G↓"},{"x":4.06,"y":0.81,"g":"G↓"},{"x":4.17,"y":0.808,"g":"G↓"},{"x":4.27,"y":0.813,"g":"G↓"},{"x":4.38,"y":0.829,"g":"G↓"},{"x":4.47,"y":0.841,"g":"G↓"},{"x":4.54,"y":0.843,"g":"G↓"},{"x":4.6,"y":0.834,"g":"G↓"},{"x":4.665,"y":0.8,"g":"G↓"},{"x":4.75,"y":0.765,"g":"G↓"},{"x":4.86,"y":0.725,"g":"G↓"},{"x":4.93,"y":0.712,"g":"G↓"},{"x":4.995,"y":0.71,"g":"G↓"},
{"x":5.09,"y":0.718,"g":"G↓"},{"x":5.17,"y":0.74,"g":"G↓"},{"x":5.255,"y":0.775,"g":"G↓"},{"x":5.31,"y":0.8,"g":"G↓"},{"x":5.37,"y":0.813,"g":"G↓"},{"x":5.42,"y":0.814,"g":"G↓"},{"x":5.5,"y":0.811,"g":"G↓"},{"x":5.6,"y":0.806,"g":"G↓"},{"x":5.7,"y":0.804,"g":"G↓"},{"x":5.8,"y":0.81,"g":"G↓"},{"x":5.9,"y":0.828,"g":"G↓"},{"x":6,"y":0.844,"g":"G↓"},{"x":6.07,"y":0.847,"g":"G↓"},{"x":6.13,"y":0.835,"g":"G↓"},{"x":6.19,"y":0.8,"g":"G↓"},{"x":6.28,"y":0.765,"g":"G↓"},{"x":6.38,"y":0.73,"g":"G↓"},{"x":6.45,"y":0.718,"g":"G↓"},{"x":6.51,"y":0.716,"g":"G↓"},{"x":6.6,"y":0.724,"g":"G↓"},{"x":6.676,"y":0.749,"g":"G↓"},{"x":6.73,"y":0.78,"g":"G↓"},{"x":6.81,"y":0.794,"g":"G↓"},{"x":6.87,"y":0.796,"g":"G↓"},{"x":7,"y":0.793,"g":"G↓"},
{"x":1,"y":0.433,"g":"G↓⁺"},{"x":1.1,"y":0.405,"g":"G↓⁺"},{"x":1.2,"y":0.38,"g":"G↓⁺"},{"x":1.35,"y":0.352,"g":"G↓⁺"},{"x":1.5,"y":0.34,"g":"G↓⁺"},{"x":1.65,"y":0.336,"g":"G↓⁺"},
{"x":1.79,"y":0.345,"g":"G↓⁺"},{"x":1.89,"y":0.37,"g":"G↓⁺"},{"x":1.99,"y":0.405,"g":"G↓⁺"},{"x":2.09,"y":0.445,"g":"G↓⁺"},{"x":2.17,"y":0.47,"g":"G↓⁺"},{"x":2.24,"y":0.48,"g":"G↓⁺"},{"x":2.29,"y":0.483,"g":"G↓⁺"},{"x":2.34,"y":0.48,"g":"G↓⁺"},{"x":2.44,"y":0.465,"g":"G↓⁺"},{"x":2.59,"y":0.435,"g":"G↓⁺"},{"x":2.74,"y":0.395,"g":"G↓⁺"},{"x":2.89,"y":0.362,"g":"G↓⁺"},{"x":3.04,"y":0.345,"g":"G↓⁺"},{"x":3.2,"y":0.337,"g":"G↓⁺"},
{"x":3.35,"y":0.345,"g":"G↓⁺"},{"x":3.45,"y":0.37,"g":"G↓⁺"},{"x":3.55,"y":0.405,"g":"G↓⁺"},{"x":3.65,"y":0.442,"g":"G↓⁺"},{"x":3.73,"y":0.467,"g":"G↓⁺"},{"x":3.8,"y":0.478,"g":"G↓⁺"},{"x":3.85,"y":0.48,"g":"G↓⁺"},{"x":3.9,"y":0.477,"g":"G↓⁺"},{"x":4,"y":0.462,"g":"G↓⁺"},{"x":4.15,"y":0.432,"g":"G↓⁺"},{"x":4.3,"y":0.393,"g":"G↓⁺"},{"x":4.45,"y":0.362,"g":"G↓⁺"},{"x":4.6,"y":0.345,"g":"G↓⁺"},{"x":4.76,"y":0.337,"g":"G↓⁺"},
{"x":4.89,"y":0.345,"g":"G↓⁺"},{"x":4.99,"y":0.37,"g":"G↓⁺"},{"x":5.09,"y":0.405,"g":"G↓⁺"},{"x":5.19,"y":0.44,"g":"G↓⁺"},{"x":5.27,"y":0.463,"g":"G↓⁺"},{"x":5.34,"y":0.474,"g":"G↓⁺"},{"x":5.39,"y":0.476,"g":"G↓⁺"},{"x":5.44,"y":0.473,"g":"G↓⁺"},{"x":5.54,"y":0.458,"g":"G↓⁺"},{"x":5.69,"y":0.428,"g":"G↓⁺"},{"x":5.84,"y":0.39,"g":"G↓⁺"},{"x":5.99,"y":0.36,"g":"G↓⁺"},{"x":6.14,"y":0.345,"g":"G↓⁺"},{"x":6.29,"y":0.338,"g":"G↓⁺"},
{"x":6.42,"y":0.346,"g":"G↓⁺"},{"x":6.52,"y":0.37,"g":"G↓⁺"},{"x":6.6,"y":0.41,"g":"G↓⁺"},{"x":6.68,"y":0.445,"g":"G↓⁺"},{"x":6.75,"y":0.458,"g":"G↓⁺"},{"x":6.82,"y":0.461,"g":"G↓⁺"},{"x":6.9,"y":0.46,"g":"G↓⁺"},{"x":7,"y":0.448,"g":"G↓⁺"},
{"x":1,"y":0.38,"g":"G↓⁻"},{"x":1.06,"y":0.4,"g":"G↓⁻"},{"x":1.16,"y":0.425,"g":"G↓⁻"},{"x":1.26,"y":0.45,"g":"G↓⁻"},{"x":1.36,"y":0.478,"g":"G↓⁻"},{"x":1.42,"y":0.49,"g":"G↓⁻"},{"x":1.46,"y":0.494,"g":"G↓⁻"},{"x":1.51,"y":0.488,"g":"G↓⁻"},{"x":1.56,"y":0.455,"g":"G↓⁻"},{"x":1.63,"y":0.41,"g":"G↓⁻"},{"x":1.71,"y":0.38,"g":"G↓⁻"},{"x":1.79,"y":0.362,"g":"G↓⁻"},{"x":1.91,"y":0.343,"g":"G↓⁻"},{"x":2.15,"y":0.335,"g":"G↓⁻"},
{"x":2.32,"y":0.345,"g":"G↓⁻"},{"x":2.47,"y":0.365,"g":"G↓⁻"},{"x":2.62,"y":0.4,"g":"G↓⁻"},{"x":2.72,"y":0.425,"g":"G↓⁻"},{"x":2.82,"y":0.45,"g":"G↓⁻"},{"x":2.92,"y":0.478,"g":"G↓⁻"},{"x":2.98,"y":0.49,"g":"G↓⁻"},{"x":3.02,"y":0.494,"g":"G↓⁻"},{"x":3.07,"y":0.488,"g":"G↓⁻"},{"x":3.12,"y":0.455,"g":"G↓⁻"},{"x":3.19,"y":0.41,"g":"G↓⁻"},{"x":3.27,"y":0.38,"g":"G↓⁻"},{"x":3.35,"y":0.362,"g":"G↓⁻"},{"x":3.47,"y":0.343,"g":"G↓⁻"},{"x":3.72,"y":0.335,"g":"G↓⁻"},
{"x":3.86,"y":0.345,"g":"G↓⁻"},{"x":4.01,"y":0.365,"g":"G↓⁻"},{"x":4.16,"y":0.4,"g":"G↓⁻"},{"x":4.26,"y":0.427,"g":"G↓⁻"},{"x":4.36,"y":0.452,"g":"G↓⁻"},{"x":4.46,"y":0.48,"g":"G↓⁻"},{"x":4.52,"y":0.492,"g":"G↓⁻"},{"x":4.56,"y":0.496,"g":"G↓⁻"},{"x":4.61,"y":0.49,"g":"G↓⁻"},{"x":4.66,"y":0.457,"g":"G↓⁻"},{"x":4.73,"y":0.412,"g":"G↓⁻"},{"x":4.81,"y":0.38,"g":"G↓⁻"},{"x":4.89,"y":0.362,"g":"G↓⁻"},{"x":5.01,"y":0.343,"g":"G↓⁻"},{"x":5.27,"y":0.335,"g":"G↓⁻"},
{"x":5.39,"y":0.345,"g":"G↓⁻"},{"x":5.54,"y":0.365,"g":"G↓⁻"},{"x":5.69,"y":0.4,"g":"G↓⁻"},{"x":5.79,"y":0.429,"g":"G↓⁻"},{"x":5.89,"y":0.454,"g":"G↓⁻"},{"x":5.99,"y":0.482,"g":"G↓⁻"},{"x":6.05,"y":0.494,"g":"G↓⁻"},{"x":6.09,"y":0.498,"g":"G↓⁻"},{"x":6.14,"y":0.492,"g":"G↓⁻"},{"x":6.19,"y":0.459,"g":"G↓⁻"},{"x":6.26,"y":0.414,"g":"G↓⁻"},{"x":6.34,"y":0.38,"g":"G↓⁻"},{"x":6.42,"y":0.362,"g":"G↓⁻"},{"x":6.54,"y":0.343,"g":"G↓⁻"},{"x":6.8,"y":0.333,"g":"G↓⁻"},{"x":6.9,"y":0.337,"g":"G↓⁻"},{"x":7,"y":0.345,"g":"G↓⁻"}
]
},
"spacing":115,
"resolve":{"scale":{"color":"independent"},"legend":{"color":"independent"}},
"vconcat":[
{"bounds":"flush","spacing":263,"hconcat":[
{"width":1944,"height":1242,"view":{"stroke":"black","strokeWidth":4},
"encoding":{
"x":{"field":"x","type":"quantitative","scale":{"domain":[0,7],"nice":false,"zero":false},"axis":{"values":[0,1,2,3,4,5,6,7],"title":"χ","titleFontSize":105,"titleFontStyle":"italic","titlePadding":5,"titleX":961,"labelFontSize":54,"labelPadding":6,"tickSize":20,"tickWidth":4,"labelFlush":false}},
"y":{"field":"y","type":"quantitative","scale":{"domain":[0.65,1.1],"nice":false,"zero":false},"axis":{"values":[0.7,0.8,0.9,1.0,1.1],"format":".1f","title":null,"labelFontSize":54,"labelPadding":27,"tickSize":20,"tickWidth":4}}
},
"layer":[
{"data":{"name":"up"},"mark":{"type":"line","stroke":"#0000ff","interpolate":"monotone"},"encoding":{
"strokeDash":{"field":"k","type":"ordinal","scale":{"domain":["0.00","0.16","0.24","0.40"],"range":[[7,9],[24,9],[30,9,6,9],[1,0]]},"legend":{"title":null,"orient":"none","legendX":1500,"legendY":10,"zindex":1,"symbolType":"stroke","symbolSize":13225,"labelFontSize":58,"labelOffset":49,"labelLimit":600,"labelExpr":"'ξᵧ = ' + datum.label","fillColor":"rgba(255,255,255,0.8)","strokeColor":"#cccccc","cornerRadius":6,"padding":8,"rowPadding":-26,"encode":{"symbols":{"update":{"stroke":{"value":"#0000ff"}}}}}},
"strokeWidth":{"field":"k","type":"ordinal","scale":{"type":"ordinal","domain":["0.00","0.16","0.24","0.40"],"range":[5,6,5,9]},"legend":{"title":null,"orient":"none","legendX":1500,"legendY":10,"zindex":1,"symbolType":"stroke","symbolSize":13225,"labelFontSize":58,"labelOffset":49,"labelLimit":600,"labelExpr":"'ξᵧ = ' + datum.label","fillColor":"rgba(255,255,255,0.8)","strokeColor":"#cccccc","cornerRadius":6,"padding":8,"rowPadding":-26,"encode":{"symbols":{"update":{"stroke":{"value":"#0000ff"}}}}}}}},
{"data":{"name":"down"},"mark":{"type":"line","stroke":"#ff0000","interpolate":"monotone"},"encoding":{"strokeDash":{"field":"k","type":"ordinal","scale":{"domain":["0.00","0.16","0.24","0.40"],"range":[[7,9],[24,9],[30,9,6,9],[1,0]]}},"strokeWidth":{"field":"k","type":"ordinal","scale":{"type":"ordinal","domain":["0.00","0.16","0.24","0.40"],"range":[5,6,5,9]}}}},
{"data":{"values":[{"x":0.083,"x2":1.422,"y":1.0308,"y2":1.0435}]},"mark":{"type":"rect","fill":"#c0c0c0"},"encoding":{"x2":{"field":"x2"},"y2":{"field":"y2"}}},
{"data":{"values":[{"x":0.083,"x2":1.422,"y":1.0435,"y2":1.0495}]},"mark":{"type":"rect","fill":"#000000"},"encoding":{"x2":{"field":"x2"},"y2":{"field":"y2"}}},
{"data":{"values":[{"x":0.529,"x2":0.976,"y":1.0495,"y2":1.0708}]},"mark":{"type":"rect","fill":"#c8c8c8","stroke":"#333333","strokeWidth":2},"encoding":{"x2":{"field":"x2"},"y2":{"field":"y2"}}},
{"data":{"values":[{"x":0.529,"x2":0.976,"y":1.0708,"y2":1.0778},{"x":0.083,"x2":0.335,"y":1.0505,"y2":1.0663},{"x":1.142,"x2":1.422,"y":1.0505,"y2":1.0663}]},"mark":{"type":"rect","fill":"#ffffff","stroke":"#333333","strokeWidth":2},"encoding":{"x2":{"field":"x2"},"y2":{"field":"y2"}}},
{"data":{"values":[{"x":0.205,"y":1.059,"t":"Source"}]},"mark":{"type":"text","fontSize":23,"align":"center","baseline":"middle"},"encoding":{"text":{"field":"t"}}},
{"data":{"values":[{"x":1.282,"y":1.0587,"t":"Drain"}]},"mark":{"type":"text","fontSize":32,"align":"center","baseline":"middle"},"encoding":{"text":{"field":"t"}}},
{"data":{"values":[{"x":0.742,"y":1.075,"t":"Gate"}]},"mark":{"type":"text","fontSize":17,"align":"center","baseline":"middle"},"encoding":{"text":{"field":"t"}}},
{"data":{"values":[{"x":0.778,"y":1.0381,"t":"Substrate"}]},"mark":{"type":"text","fontSize":32,"align":"center","baseline":"middle"},"encoding":{"text":{"field":"t"}}},
{"data":{"values":[{"x":0.717,"y":1.059,"t":"ξ"}]},"mark":{"type":"text","fontSize":52,"align":"center","baseline":"middle"},"encoding":{"text":{"field":"t"}}},
{"data":{"values":[{"x":0.8,"y":1.0565,"t":"y"}]},"mark":{"type":"text","fontSize":40,"align":"center","baseline":"middle"},"encoding":{"text":{"field":"t"}}},
{"data":{"values":[{"x":2.64,"y":1.0654,"y2":1.0298}]},"mark":{"type":"rule","stroke":"#ff0000","strokeWidth":17},"encoding":{"y2":{"field":"y2"}}},
{"data":{"values":[{"x":2.64,"y":1.0232}]},"mark":{"type":"point","shape":"triangle-down","filled":true,"fill":"#ff0000","opacity":1,"size":2304}},
{"data":{"values":[{"x":2.64,"y":1.0479}]},"mark":{"type":"point","shape":"circle","filled":true,"fill":"#ff0000","stroke":"#000000","strokeWidth":8,"opacity":1,"size":2500}},
{"data":{"values":[{"x":3.15,"y":1.054,"y2":1.019}]},"mark":{"type":"rule","stroke":"#1b75bc","strokeWidth":17},"encoding":{"y2":{"field":"y2"}}},
{"data":{"values":[{"x":3.15,"y":1.0606}]},"mark":{"type":"point","shape":"triangle-up","filled":true,"fill":"#1b75bc","opacity":1,"size":2304}},
{"data":{"values":[{"x":3.15,"y":1.0378}]},"mark":{"type":"point","shape":"circle","filled":true,"fill":"#1b75bc","stroke":"#000000","strokeWidth":8,"opacity":1,"size":2500}},
{"data":{"values":[{"x":-0.76,"y":0.827,"t":"G"},{"x":-0.76,"y":0.86,"t":"/"},{"x":-0.76,"y":0.882,"t":"G"}]},"mark":{"type":"text","fontSize":115,"angle":270,"align":"center","baseline":"alphabetic"},"encoding":{"text":{"field":"t"}}},
{"data":{"values":[{"x":-0.7,"y":0.848,"t":"τ"},{"x":-0.7,"y":0.904,"t":"0"}]},"mark":{"type":"text","fontSize":70,"angle":270,"align":"center","baseline":"alphabetic"},"encoding":{"text":{"field":"t"}}},
{"data":{"values":[{"x":2.899,"y":0.5467,"t":"("},{"x":3.129,"y":0.5467,"t":")"}]},"mark":{"type":"text","fontSize":78,"align":"center","baseline":"middle"},"encoding":{"text":{"field":"t"}}},
{"data":{"values":[{"x":3.014,"y":0.5467,"t":"a"}]},"mark":{"type":"text","fontSize":78,"fontWeight":"bold","align":"center","baseline":"middle"},"encoding":{"text":{"field":"t"}}}
]},
{"width":1300,"height":1242,"view":{"stroke":null},
"encoding":{
"x":{"field":"x","type":"quantitative","scale":{"domain":[-792,508],"nice":false,"zero":false},"axis":null},
"y":{"field":"y","type":"quantitative","scale":{"domain":[-329,1088],"nice":false,"zero":false},"axis":null}
},
"layer":[
{"data":{"values":[{"x":-448,"x2":0,"y":0,"y2":749}]},"mark":{"type":"rect","fill":"#d0cfcd"},"encoding":{"x2":{"field":"x2"},"y2":{"field":"y2"}}},
{"data":{"values":[{"x":0,"x2":410,"y":0,"y2":749}]},"mark":{"type":"rect","fill":"#e6e6e6"},"encoding":{"x2":{"field":"x2"},"y2":{"field":"y2"}}},
{"data":{"values":[{"x":-448,"x2":410,"y":0,"y2":749}]},"mark":{"type":"rect","fill":null,"stroke":"#000000","strokeWidth":8},"encoding":{"x2":{"field":"x2"},"y2":{"field":"y2"}}},
{"data":{"values":[{"x":0,"y":0,"y2":749}]},"mark":{"type":"rule","stroke":"#000000","strokeWidth":6},"encoding":{"y2":{"field":"y2"}}},
{"data":{"values":[{"x":0,"y":1142,"y2":749},{"x":0,"y":0,"y2":-351},{"x":-174,"y":1049,"y2":749},{"x":266,"y":1049,"y2":749}]},"mark":{"type":"rule","stroke":"#000000","strokeWidth":8,"strokeDash":[8,7]},"encoding":{"y2":{"field":"y2"}}},
{"data":{"values":[{"x":-232,"y":748,"x2":0,"y2":0}]},"mark":{"type":"rule","stroke":"#7f7878","strokeWidth":4.5,"strokeDash":[10,5]},"encoding":{"x2":{"field":"x2"},"y2":{"field":"y2"}}},
{"data":{"values":[{"x":233,"y":746,"x2":0,"y2":0}]},"mark":{"type":"rule","stroke":"#404040","strokeWidth":4,"strokeDash":[16,8,3,8]},"encoding":{"x2":{"field":"x2"},"y2":{"field":"y2"}}},
{"data":{"values":[{"x":101,"y":-338,"x2":10,"y2":-27},{"x":0,"y":0,"x2":-174,"y2":749},{"x":-174,"y":749,"x2":-265,"y2":1040}]},"mark":{"type":"rule","stroke":"#47b038","strokeWidth":12},"encoding":{"x2":{"field":"x2"},"y2":{"field":"y2"}}},
{"data":{"values":[{"x":-104,"y":-328,"x2":-8,"y2":-25},{"x":0,"y":0,"x2":274,"y2":754},{"x":274,"y":754,"x2":372,"y2":1055}]},"mark":{"type":"rule","stroke":"#ffc000","strokeWidth":12},"encoding":{"x2":{"field":"x2"},"y2":{"field":"y2"}}},
{"data":{"values":[{"x":10,"y":-27},{"x":-169,"y":727},{"x":-264,"y":1043}]},"mark":{"type":"point","shape":"triangle-up","filled":true,"fill":"#47b038","opacity":1,"size":2500,"angle":-18}},
{"data":{"values":[{"x":-10,"y":-21},{"x":267,"y":732},{"x":372,"y":1057}]},"mark":{"type":"point","shape":"triangle-up","filled":true,"fill":"#ffc000","opacity":1,"size":2500,"angle":20}},
{"data":{"values":[{"a":"1","x":-244,"y":998},{"a":"1","x":-210,"y":1016},{"a":"1","x":-174,"y":1022},{"a":"2","x":262,"y":997},{"a":"2","x":307,"y":992},{"a":"2","x":342,"y":966},{"a":"3","x":-74,"y":342},{"a":"3","x":-35,"y":367},{"a":"3","x":2,"y":372},{"a":"3","x":45,"y":363},{"a":"3","x":81,"y":341},{"a":"3","x":105,"y":312},{"a":"4","x":-51,"y":-174},{"a":"4","x":0,"y":-193},{"a":"4","x":52,"y":-182}]},"mark":{"type":"line","stroke":"#000000","strokeWidth":8,"interpolate":"monotone"},"encoding":{"detail":{"field":"a"}}},
{"data":{"values":[{"x":443,"y":-49,"y2":81},{"x":-162,"y":-357,"y2":-292},{"x":134,"y":-357,"y2":-289}]},"mark":{"type":"rule","stroke":"#000000","strokeWidth":7},"encoding":{"y2":{"field":"y2"}}},
{"data":{"values":[{"x":443,"y":-47,"x2":315},{"x":-165,"y":-357,"x2":-94},{"x":137,"y":-357,"x2":63}]},"mark":{"type":"rule","stroke":"#000000","strokeWidth":7},"encoding":{"x2":{"field":"x2"}}},
{"data":{"values":[{"x":443,"y":105},{"x":-162,"y":-267},{"x":134,"y":-264}]},"mark":{"type":"point","shape":"triangle-up","filled":true,"fill":"#000000","opacity":1,"size":2500}},
{"data":{"values":[{"x":290,"y":-47},{"x":38,"y":-357}]},"mark":{"type":"point","shape":"triangle-left","filled":true,"fill":"#000000","opacity":1,"size":2500}},
{"data":{"values":[{"x":-70,"y":-357}]},"mark":{"type":"point","shape":"triangle-right","filled":true,"fill":"#000000","opacity":1,"size":2500}},
{"data":{"values":[{"x":-326,"y":1112,"t":"G"}]},"mark":{"type":"text","fontSize":95,"fill":"#47b038","align":"center","baseline":"middle"},"encoding":{"text":{"field":"t"}}},
{"data":{"values":[{"x":-275,"y":1128,"t":"+"}]},"mark":{"type":"text","fontSize":62,"fill":"#47b038","align":"center","baseline":"middle"},"encoding":{"text":{"field":"t"}}},
{"data":{"values":[{"x":400,"y":1112,"t":"G"}]},"mark":{"type":"text","fontSize":95,"fill":"#ffc000","align":"center","baseline":"middle"},"encoding":{"text":{"field":"t"}}},
{"data":{"values":[{"x":441,"y":1128,"t":"-"}]},"mark":{"type":"text","fontSize":62,"fill":"#ffc000","align":"center","baseline":"middle"},"encoding":{"text":{"field":"t"}}},
{"data":{"values":[{"x":-200,"y":1068,"t":"ϕ"},{"x":317,"y":1068,"t":"-ϕ"},{"x":-41,"y":-268,"t":"-ϕ"},{"x":42,"y":-259,"t":"ϕ"},{"x":-68,"y":456,"t":"θ"},{"x":61,"y":424,"t":"-θ"},{"x":456,"y":166,"t":"x"},{"x":231,"y":-55,"t":"y"}]},"mark":{"type":"text","fontSize":95,"align":"center","baseline":"middle"},"encoding":{"text":{"field":"t"}}},
{"data":{"values":[{"x":-230,"y":-247,"t":"k"},{"x":171,"y":-245,"t":"k"},{"x":-94,"y":-405,"t":"k"},{"x":44,"y":-405,"t":"k"}]},"mark":{"type":"text","fontSize":85,"align":"center","baseline":"middle"},"encoding":{"text":{"field":"t"}}},
{"data":{"values":[{"x":-200,"y":-262,"t":"x"},{"x":201,"y":-259,"t":"x"},{"x":-62,"y":-423,"t":"y"},{"x":76,"y":-423,"t":"y"},{"x":-32,"y":437,"t":"1"},{"x":108,"y":406,"t":"2"}]},"mark":{"type":"text","fontSize":60,"align":"center","baseline":"middle"},"encoding":{"text":{"field":"t"}}},
{"data":{"values":[{"x":-23,"y":-655,"t":"("},{"x":47,"y":-655,"t":")"}]},"mark":{"type":"text","fontSize":78,"align":"center","baseline":"middle"},"encoding":{"text":{"field":"t"}}},
{"data":{"values":[{"x":12,"y":-655,"t":"b"}]},"mark":{"type":"text","fontSize":78,"fontWeight":"bold","align":"center","baseline":"middle"},"encoding":{"text":{"field":"t"}}}
]}
]},
{"spacing":0,"resolve":{"scale":{"color":"independent"},"legend":{"color":"independent"}},"hconcat":[
{"width":930,"height":10,"view":{"stroke":null},"data":{"values":[{"a":1}]},"mark":{"type":"point","opacity":0}},
{"bounds":"flush","spacing":286,"resolve":{"scale":{"color":"independent"},"legend":{"color":"independent"}},"vconcat":[
{"width":1373,"height":882,"view":{"stroke":"black","strokeWidth":3},
"encoding":{
"x":{"field":"x","type":"quantitative","scale":{"domain":[1,7],"nice":false,"zero":false},"axis":{"values":[1,2,3,4,5,6,7],"title":"χ","titleFontSize":75,"titleFontStyle":"italic","titlePadding":5,"labelFontSize":40,"labelPadding":4,"tickSize":14,"tickWidth":3}},
"y":{"field":"y","type":"quantitative","scale":{"domain":[0.25,1.1],"nice":false,"zero":false},"axis":{"values":[0.3,0.4,0.5,0.6,0.7,0.8,0.9,1.0,1.1],"format":".1f","title":null,"labelFontSize":40,"labelPadding":14,"tickSize":14,"tickWidth":3}}
},
"layer":[
{"data":{"name":"cup"},"mark":{"type":"line","strokeWidth":3.5,"interpolate":"monotone"},"encoding":{"color":{"field":"g","type":"nominal","scale":{"domain":["G↑","G↑⁺","G↑⁻"],"range":["#0000ff","#008000","#ffa500"]},"legend":{"title":null,"orient":"none","legendX":1155,"legendY":18,"zindex":1,"symbolType":"stroke","symbolSize":7056,"symbolStrokeWidth":3.5,"labelFontSize":38,"labelOffset":30,"fillColor":"rgba(255,255,255,0.8)","strokeColor":"#cccccc","cornerRadius":5,"padding":16,"rowPadding":-3}}}},
{"data":{"values":[{"x":0.437,"y":0.608,"t":"G"},{"x":0.437,"y":0.693,"t":"/"},{"x":0.437,"y":0.73,"t":"G"}]},"mark":{"type":"text","fontSize":74,"fontWeight":"bold","angle":270,"align":"center","baseline":"alphabetic"},"encoding":{"text":{"field":"t"}}},
{"data":{"values":[{"x":0.507,"y":0.657,"t":"↑"}]},"mark":{"type":"text","fontSize":50,"angle":270,"align":"center","baseline":"alphabetic"},"encoding":{"text":{"field":"t"}}},
{"data":{"values":[{"x":0.507,"y":0.77,"t":"0"}]},"mark":{"type":"text","fontSize":42,"angle":270,"align":"center","baseline":"alphabetic"},"encoding":{"text":{"field":"t"}}}
]},
{"width":1373,"height":881,"view":{"stroke":"black","strokeWidth":3},
"encoding":{
"x":{"field":"x","type":"quantitative","scale":{"domain":[1,7],"nice":false,"zero":false},"axis":{"values":[1,2,3,4,5,6,7],"title":"χ","titleFontSize":75,"titleFontStyle":"italic","titlePadding":5,"labelFontSize":40,"labelPadding":4,"tickSize":14,"tickWidth":3}},
"y":{"field":"y","type":"quantitative","scale":{"domain":[0.25,1.1],"nice":false,"zero":false},"axis":{"values":[0.3,0.4,0.5,0.6,0.7,0.8,0.9,1.0,1.1],"format":".1f","title":null,"labelFontSize":40,"labelPadding":14,"tickSize":14,"tickWidth":3}}
},
"layer":[
{"data":{"name":"cdown"},"mark":{"type":"line","strokeWidth":3.5,"interpolate":"monotone"},"encoding":{"color":{"field":"g","type":"nominal","scale":{"domain":["G↓","G↓⁺","G↓⁻"],"range":["#ff0000","#008000","#ffa500"]},"legend":{"title":null,"orient":"none","legendX":1155,"legendY":18,"zindex":1,"symbolType":"stroke","symbolSize":7056,"symbolStrokeWidth":3.5,"labelFontSize":38,"labelOffset":30,"fillColor":"rgba(255,255,255,0.8)","strokeColor":"#cccccc","cornerRadius":5,"padding":16,"rowPadding":-3}}}},
{"data":{"values":[{"x":0.437,"y":0.606,"t":"G"},{"x":0.437,"y":0.696,"t":"/"},{"x":0.437,"y":0.739,"t":"G"}]},"mark":{"type":"text","fontSize":74,"fontWeight":"bold","angle":270,"align":"center","baseline":"alphabetic"},"encoding":{"text":{"field":"t"}}},
{"data":{"values":[{"x":0.507,"y":0.659,"t":"↓"}]},"mark":{"type":"text","fontSize":50,"angle":270,"align":"center","baseline":"alphabetic"},"encoding":{"text":{"field":"t"}}},
{"data":{"values":[{"x":0.507,"y":0.778,"t":"0"}]},"mark":{"type":"text","fontSize":42,"angle":270,"align":"center","baseline":"alphabetic"},"encoding":{"text":{"field":"t"}}},
{"data":{"values":[{"x":3.762,"y":0.0552,"t":"("},{"x":4.05,"y":0.0552,"t":")"}]},"mark":{"type":"text","fontSize":78,"align":"center","baseline":"middle"},"encoding":{"text":{"field":"t"}}},
{"data":{"values":[{"x":3.906,"y":0.0552,"t":"c"}]},"mark":{"type":"text","fontSize":78,"fontWeight":"bold","align":"center","baseline":"middle"},"encoding":{"text":{"field":"t"}}}
]}
]}
]}
]
}
